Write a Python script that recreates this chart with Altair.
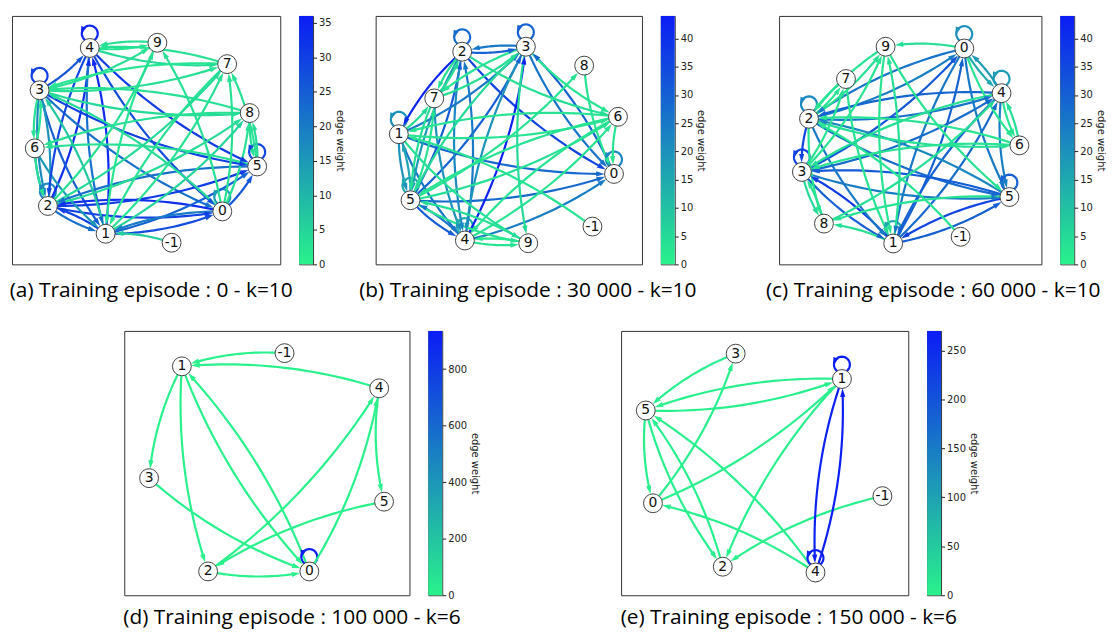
import math
import altair as alt
import pandas as pd

GREEN = "#29f28b"
BLUE = "#0b1cf5"

# ---------------- panel (a) ----------------
A_NODES = ["4", "9", "7", "3", "8", "6", "5", "2", "0", "1", "-1"]
A_X = [0.290, 0.542, 0.802, 0.103, 0.886, 0.085, 0.914, 0.134, 0.784, 0.349, 0.595]
A_Y = [0.871, 0.892, 0.806, 0.701, 0.609, 0.467, 0.394, 0.235, 0.213, 0.123, 0.087]
A_SRC = ["4", "3", "5", "2", "0", "2", "1", "4", "3", "4", "4", "3", "3", "3", "2", "1", "0", "2", "2", "1",
         "1", "0", "6", "3", "2", "0", "5", "6", "4", "-1",
         "9", "4", "7", "4", "3", "3", "7", "3", "8", "0", "1", "2", "2", "1", "0", "5", "8", "0", "9", "3",
         "6", "6", "5", "8", "0", "2", "5", "1", "7"]
A_DST = ["4", "3", "5", "2", "0", "4", "4", "1", "5", "5", "0", "0", "1", "2", "1", "2", "2", "0", "5", "5",
         "0", "1", "1", "4", "3", "5", "2", "2", "2", "1",
         "4", "9", "4", "7", "9", "7", "3", "8", "3", "7", "7", "7", "8", "8", "8", "8", "5", "9", "1", "6",
         "3", "2", "6", "6", "3", "9", "7", "3", "1"]
A_W = [35, 30, 29, 18, 14, 33, 34, 22, 30, 31, 28, 22, 25, 18, 22, 30, 33, 30, 31, 24,
       28, 20, 15, 26, 16, 26, 22, 20, 29, 6,
       3, 2, 3, 4, 3, 3, 2, 4, 3, 3, 3, 4, 4, 5, 3, 4, 3, 3, 2, 3,
       2, 3, 3, 3, 4, 3, 3, 7, 3]
A_MAX = 36
A_TICKS = [0, 5, 10, 15, 20, 25, 30, 35]

# ---------------- panel (b) ----------------
B_NODES = ["2", "3", "8", "7", "6", "1", "0", "5", "-1", "4", "9"]
B_X = [0.325, 0.564, 0.783, 0.220, 0.910, 0.087, 0.895, 0.131, 0.814, 0.335, 0.573]
B_Y = [0.856, 0.876, 0.800, 0.668, 0.594, 0.524, 0.364, 0.258, 0.152, 0.096, 0.085]
B_SRC = ["2", "3", "1", "0", "5", "4",
         "2", "2", "3", "2", "1", "5", "4", "3", "0", "4", "5", "4", "5", "2", "1", "1", "5", "5", "4", "3",
         "1", "7", "2",
         "7", "2", "7", "3", "1", "7", "5", "1", "5", "4", "2", "3", "6", "8", "5", "6", "1", "5", "9", "4",
         "3", "-1", "6", "9", "3", "6"]
B_DST = ["2", "3", "1", "0", "5", "4",
         "1", "3", "2", "0", "0", "0", "0", "0", "3", "3", "3", "2", "2", "4", "4", "5", "1", "4", "5", "4",
         "3", "4", "5",
         "2", "7", "3", "7", "7", "5", "7", "6", "6", "6", "6", "6", "0", "0", "8", "1", "9", "9", "4", "9",
         "9", "1", "5", "5", "5", "4"]
B_W = [28, 30, 20, 22, 15, 14,
       42, 30, 25, 36, 28, 28, 24, 26, 30, 43, 30, 25, 31, 22, 25, 20, 16, 31, 26, 20,
       25, 20, 18,
       5, 4, 4, 3, 5, 4, 3, 3, 4, 3, 4, 3, 3, 3, 3, 3, 4, 3, 2, 3,
       5, 3, 3, 4, 5, 3]
B_MAX = 44
B_TICKS = [0, 5, 10, 15, 20, 25, 30, 35, 40]

# ---------------- panel (c) ----------------
C_NODES = ["9", "0", "7", "4", "2", "6", "3", "5", "8", "-1", "1"]
C_X = [0.406, 0.706, 0.255, 0.848, 0.114, 0.916, 0.087, 0.878, 0.171, 0.692, 0.435]
C_Y = [0.876, 0.869, 0.746, 0.689, 0.586, 0.479, 0.372, 0.271, 0.164, 0.111, 0.084]
C_SRC = ["0", "4", "2", "3", "5", "1",
         "0", "2", "1", "0", "1", "4", "2", "4", "3", "3", "2", "5", "3", "5", "0", "4", "5", "1", "1", "3",
         "2", "0", "4", "2",
         "0", "9", "2", "3", "9", "1", "9", "2", "7", "3", "3", "8", "1", "5", "2", "2", "6", "4", "6", "0",
         "-1", "8", "4", "7", "6"]
C_DST = ["0", "4", "2", "3", "5", "1",
         "2", "0", "0", "1", "4", "1", "4", "2", "4", "0", "5", "2", "5", "3", "5", "5", "1", "5", "3", "1",
         "1", "4", "0", "3",
         "9", "2", "9", "9", "1", "9", "5", "7", "1", "7", "8", "3", "8", "8", "8", "6", "3", "6", "4", "6",
         "2", "4", "3", "2", "2"]
C_W = [20, 18, 22, 36, 30, 15,
       26, 24, 30, 25, 28, 30, 26, 29, 28, 32, 28, 22, 24, 31, 25, 24, 36, 30, 38, 30,
       25, 15, 18, 36,
       4, 3, 4, 3, 3, 4, 3, 3, 3, 3, 5, 3, 4, 3, 3, 4, 3, 3, 4, 3,
       3, 4, 4, 3, 3]
C_MAX = 44
C_TICKS = [0, 5, 10, 15, 20, 25, 30, 35, 40]

# ---------------- panel (d) ----------------
D_NODES = ["-1", "1", "4", "3", "5", "2", "0"]
D_X = [0.562, 0.202, 0.894, 0.087, 0.911, 0.294, 0.649]
D_Y = [0.916, 0.866, 0.783, 0.443, 0.354, 0.090, 0.090]
D_SRC = ["-1", "4", "1", "1", "1", "0", "3", "2", "0", "0", "2", "5", "4"]
D_DST = ["1", "1", "3", "2", "0", "1", "0", "0", "0", "4", "4", "2", "5"]
D_W = [4, 4, 4, 4, 4, 4, 4, 4, 930, 4, 4, 4, 4]
D_MAX = 935
D_TICKS = [0, 200, 400, 600, 800]

# ---------------- panel (e) ----------------
E_NODES = ["3", "1", "5", "-1", "0", "2", "4"]
E_X = [0.399, 0.769, 0.086, 0.910, 0.111, 0.354, 0.677]
E_Y = [0.914, 0.818, 0.699, 0.375, 0.348, 0.108, 0.086]
E_SRC = ["3", "0", "1", "5", "5", "0", "5", "2", "4", "1", "-1", "4", "1", "4", "4", "1"]
E_DST = ["5", "3", "5", "1", "0", "1", "2", "5", "5", "2", "2", "0", "4", "1", "4", "1"]
E_W = [4, 4, 4, 4, 4, 4, 4, 4, 4, 4, 4, 4, 262, 268, 265, 270]
E_MAX = 270
E_TICKS = [0, 50, 100, 150, 200, 250]

TITLES = [
    "(a) Training episode : 0 - k=10",
    "(b) Training episode : 30 000 - k=10",
    "(c) Training episode : 60 000 - k=10",
    "(d) Training episode : 100 000 - k=6",
    "(e) Training episode : 150 000 - k=6",
]

NODE_R = 9.5
ARROW_L = 8.5
RAD = 0.1
ARROW_PATH = "M0,-1L0.62,1L-0.62,1Z"
CB_W = 14


def bisect(f, lo, hi):
    flo = f(lo)
    for _ in range(40):
        mid = 0.5 * (lo + hi)
        fm = f(mid)
        if (fm > 0) == (flo > 0):
            lo, flo = mid, fm
        else:
            hi = mid
    return 0.5 * (lo + hi)


def geometry(nodes, xs, ys, src, dst, wts, W, H):
    pos = {n: (x * W, y * H) for n, x, y in zip(nodes, xs, ys)}
    lines, arrows = [], []
    for k, (u, v, w) in enumerate(zip(src, dst, wts)):
        if u == v:
            cx, cy = pos[u][0], pos[u][1] + NODE_R + 5
            rl = 8
            n = 30
            for i in range(n + 1):
                a = math.radians(-60 + i * 300 / n)
                lines.append({"eid": k, "ord": i, "x": (cx + rl * math.cos(a)) / W,
                              "y": (cy + rl * math.sin(a)) / H, "w": w})
            a = math.radians(160)
            px, py = cx + rl * math.cos(a), cy + rl * math.sin(a)
            dx, dy = -math.sin(a), math.cos(a)
            ang = math.degrees(math.atan2(dx, dy)) % 360
            arrows.append({"x": px / W, "y": py / H, "ang": ang, "w": w})
            continue
        p0 = pos[u]
        p2 = pos[v]
        ddx, ddy = p2[0] - p0[0], p2[1] - p0[1]
        mx, my = (p0[0] + p2[0]) / 2, (p0[1] + p2[1]) / 2
        c = (mx + RAD * ddy, my - RAD * ddx)

        def bez(t, p0=p0, p2=p2, c=c):
            a, b, d = (1 - t) ** 2, 2 * (1 - t) * t, t * t
            return (a * p0[0] + b * c[0] + d * p2[0], a * p0[1] + b * c[1] + d * p2[1])

        def dist(p, q):
            return math.hypot(p[0] - q[0], p[1] - q[1])

        t0 = bisect(lambda t: dist(bez(t), p0) - NODE_R, 0.0, 0.5)
        t1 = bisect(lambda t: dist(bez(t), p2) - NODE_R, 0.5, 1.0)
        tl = bisect(lambda t: dist(bez(t), p2) - (NODE_R + ARROW_L * 0.75), 0.5, 1.0)
        n = 24
        for i in range(n + 1):
            t = t0 + (tl - t0) * i / n
            p = bez(t)
            lines.append({"eid": k, "ord": i, "x": p[0] / W, "y": p[1] / H, "w": w})
        tip = bez(t1)
        tx = 2 * (1 - t1) * (c[0] - p0[0]) + 2 * t1 * (p2[0] - c[0])
        ty = 2 * (1 - t1) * (c[1] - p0[1]) + 2 * t1 * (p2[1] - c[1])
        nrm = math.hypot(tx, ty)
        tx, ty = tx / nrm, ty / nrm
        cxa, cya = tip[0] - tx * ARROW_L / 2, tip[1] - ty * ARROW_L / 2
        ang = math.degrees(math.atan2(tx, ty)) % 360
        arrows.append({"x": cxa / W, "y": cya / H, "ang": ang, "w": w})
    return pd.DataFrame(lines), pd.DataFrame(arrows)


def panel(nodes, xs, ys, src, dst, wts, wmax, ticks, W, H, title, toff, tdx):
    lines, arrows = geometry(nodes, xs, ys, src, dst, wts, W, H)
    cscale = alt.Scale(domain=[0, wmax], range=[GREEN, BLUE], interpolate="rgb")
    xsc = alt.Scale(domain=[0, 1], nice=False, zero=False)
    ysc = alt.Scale(domain=[0, 1], nice=False, zero=False)
    col = alt.Color("w:Q", scale=cscale, legend=None)
    edges = alt.Chart(lines).mark_line(strokeWidth=2.2, strokeCap="round").encode(
        x=alt.X("x:Q", scale=xsc, axis=None),
        y=alt.Y("y:Q", scale=ysc, axis=None),
        detail="eid:N", order="ord:Q", color=col)
    heads = alt.Chart(arrows).mark_point(shape=ARROW_PATH, filled=True, size=ARROW_L ** 2,
                                         opacity=1, strokeWidth=0).encode(
        x=alt.X("x:Q", scale=xsc, axis=None),
        y=alt.Y("y:Q", scale=ysc, axis=None),
        angle=alt.Angle("ang:Q", scale=None), color=col)
    ndf = pd.DataFrame({"node": nodes, "x": xs, "y": ys})
    circ = alt.Chart(ndf).mark_circle(size=(2 * NODE_R) ** 2, fill="white", stroke="#444",
                                      strokeWidth=1, opacity=1).encode(
        x=alt.X("x:Q", scale=xsc, axis=None), y=alt.Y("y:Q", scale=ysc, axis=None))
    lab = alt.Chart(ndf).mark_text(font="DejaVu Sans", fontSize=14, color="#111",
                                   baseline="middle", align="center").encode(
        x=alt.X("x:Q", scale=xsc, axis=None), y=alt.Y("y:Q", scale=ysc, axis=None),
        text="node:N")
    graph = alt.layer(edges, heads, circ, lab).properties(width=W, height=H)

    cb = alt.Chart(pd.DataFrame({"lo": [0], "hi": [wmax]})).mark_rect(
        fill=alt.Gradient(gradient="linear", x1=0, x2=0, y1=1, y2=0,
                          stops=[alt.GradientStop(color=GREEN, offset=0),
                                 alt.GradientStop(color=BLUE, offset=1)])).encode(
        y=alt.Y("lo:Q", scale=alt.Scale(domain=[0, wmax], nice=False),
                axis=alt.Axis(orient="right", values=ticks, title="edge weight", grid=False,
                              domain=False, tickSize=3.5, labelFontSize=10, titleFontSize=10,
                              labelPadding=2, titlePadding=3)),
        y2="hi:Q",
        x=alt.value(0), x2=alt.value(CB_W)).properties(width=CB_W, height=H)

    return alt.hconcat(graph, cb, spacing=17).properties(
        title=alt.TitleParams(title, orient="bottom", anchor="middle", font="Open Sans",
                              fontSize=21, fontWeight="normal", color="black", offset=toff,
                              dx=tdx)
    ).resolve_scale(color="independent")


pa = panel(A_NODES, A_X, A_Y, A_SRC, A_DST, A_W, A_MAX, A_TICKS, 270, 250, TITLES[0], 10, -27)
pb = panel(B_NODES, B_X, B_Y, B_SRC, B_DST, B_W, B_MAX, B_TICKS, 268, 250, TITLES[1], 10, -13)
pc = panel(C_NODES, C_X, C_Y, C_SRC, C_DST, C_W, C_MAX, C_TICKS, 264, 250, TITLES[2], 10, -9)
pd_ = panel(D_NODES, D_X, D_Y, D_SRC, D_DST, D_W, D_MAX, D_TICKS, 287, 266, TITLES[3], 6, -10)
pe = panel(E_NODES, E_X, E_Y, E_SRC, E_DST, E_W, E_MAX, E_TICKS, 289, 266, TITLES[4], 6, -11)

# empty spacer that offsets the bottom row from the left edge
spacer = alt.Chart(pd.DataFrame({"v": [0]})).mark_point(opacity=0).encode(
    x=alt.value(0), y=alt.value(0)).properties(
    width=110, height=10, view=alt.ViewBackground(stroke="transparent"))

top = alt.hconcat(
    alt.hconcat(pa, pb, spacing=14).resolve_scale(color="independent"),
    pc, spacing=59).resolve_scale(color="independent")
bottom = alt.hconcat(
    spacer,
    alt.hconcat(pd_, pe, spacing=140).resolve_scale(color="independent"),
    spacing=0).resolve_scale(color="independent")

chart = alt.vconcat(top, bottom, spacing=26).resolve_scale(
    color="independent").properties(
    padding={"left": 0, "top": 5, "right": 0, "bottom": 0}
).configure_view(stroke="#333", strokeWidth=1).configure_axis(
    labelFont="DejaVu Sans", titleFont="DejaVu Sans", labelColor="#222", tickColor="#222",
    titleColor="#222", titleFontWeight="normal")

chart.save("out.html", embed_options={"renderer": "svg", "actions": False})
